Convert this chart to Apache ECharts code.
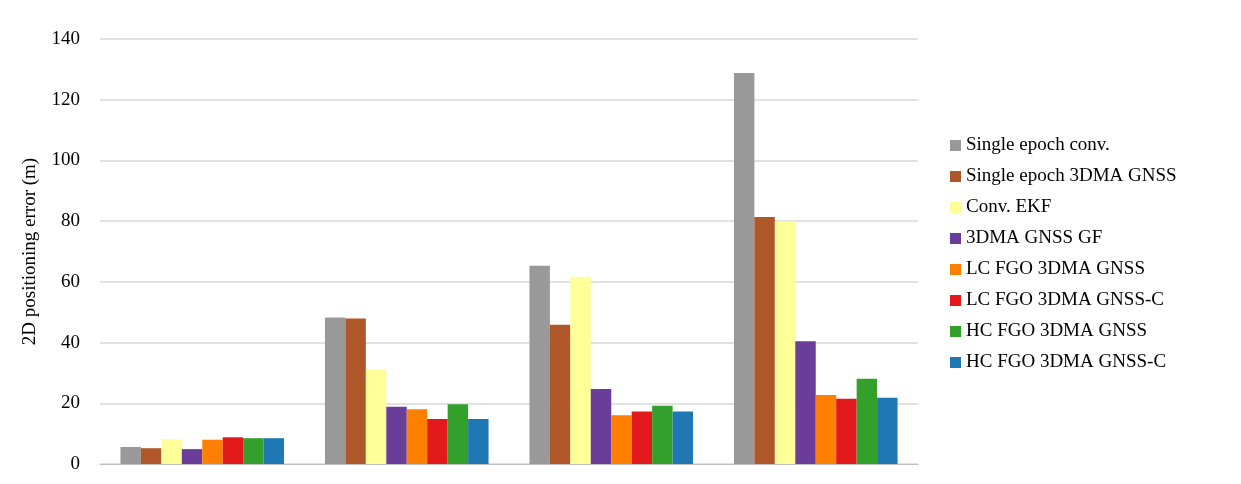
<!DOCTYPE html><html><head><meta charset="utf-8"><script src="https://cdn.jsdelivr.net/npm/echarts@6/dist/echarts.min.js"></script></head><body style="margin:0;background:#fff"><div id="c" style="width:1241px;height:484px"></div><script>
const categories=['50th percentile','RMSE','90th percentile','95th percentile'];
const seriesNames=['Single epoch conv.','Single epoch 3DMA GNSS','Conv. EKF','3DMA GNSS GF','LC FGO 3DMA GNSS','LC FGO 3DMA GNSS-C','HC FGO 3DMA GNSS','HC FGO 3DMA GNSS-C'];
const colors=['#999999','#b0572a','#ffff99','#6a3d9a','#ff7f00','#e31a1c','#33a02c','#1f78b4'];
const s0=[5.6,48.3,65.3,128.8];
const s1=[5.2,47.9,45.9,81.4];
const s2=[8.2,31.2,61.7,79.9];
const s3=[4.9,18.9,24.7,40.4];
const s4=[8.0,18.0,16.1,22.7];
const s5=[8.8,14.8,17.3,21.5];
const s6=[8.5,19.7,19.2,28.1];
const s7=[8.5,14.8,17.3,21.8];
const vals=[s0,s1,s2,s3,s4,s5,s6,s7];
const F='Liberation Serif';
echarts.init(document.getElementById('c')).setOption({
animation:false,textStyle:{fontFamily:F},
grid:{left:100,right:323,top:39,bottom:20,containLabel:false,outerBoundsMode:'none'},
legend:{orient:'vertical',left:945,top:131,itemWidth:11,itemHeight:11,itemGap:12,icon:'rect',textStyle:{fontFamily:F,fontSize:19,color:'#000'},data:seriesNames},
xAxis:{type:'category',data:categories,axisTick:{show:false},axisLine:{lineStyle:{color:'#bfbfbf'}},axisLabel:{fontFamily:F,fontSize:19,color:'#000',margin:20}},
yAxis:{type:'value',min:0,max:140,interval:20,name:'2D positioning error (m)',nameLocation:'middle',nameGap:60,nameTextStyle:{fontFamily:F,fontSize:19,color:'#000'},axisLabel:{fontFamily:F,fontSize:19,color:'#000',margin:20},splitLine:{lineStyle:{color:'#d9d9d9',width:1.5}}},
series:vals.map((v,i)=>({name:seriesNames[i],type:'bar',data:v,barGap:'0%',barCategoryGap:'20%',itemStyle:{color:colors[i]}}))
});
</script></body></html>
